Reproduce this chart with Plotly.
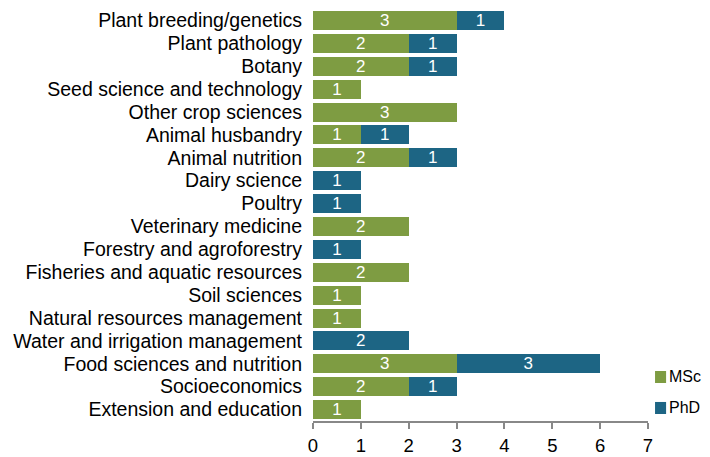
import plotly.graph_objects as go

categories = [
    "Plant breeding/genetics", "Plant pathology", "Botany", "Seed science and technology",
    "Other crop sciences", "Animal husbandry", "Animal nutrition", "Dairy science", "Poultry",
    "Veterinary medicine", "Forestry and agroforestry", "Fisheries and aquatic resources",
    "Soil sciences", "Natural resources management", "Water and irrigation management",
    "Food sciences and nutrition", "Socioeconomics", "Extension and education",
]
msc = [3, 2, 2, 1, 3, 1, 2, 0, 0, 2, 0, 2, 1, 1, 0, 3, 2, 1]
phd = [1, 1, 1, 0, 0, 1, 1, 1, 1, 0, 1, 0, 0, 0, 2, 3, 1, 0]
x_ticks = [0, 1, 2, 3, 4, 5, 6, 7]
series_names = ["MSc", "PhD"]

GREEN = "#7E9C42"
BLUE = "#1D6584"
FONT = "Liberation Sans"

fig = go.Figure()
for name, vals, col in [(series_names[0], msc, GREEN), (series_names[1], phd, BLUE)]:
    fig.add_trace(go.Bar(
        y=categories, x=vals, name=name, orientation="h",
        marker=dict(color=col, line=dict(width=0)),
        text=[str(v) if v else "" for v in vals],
        textposition="inside", insidetextanchor="middle", textangle=0,
        constraintext="none",
        textfont=dict(color="white", size=17, family=FONT),
        showlegend=False,
    ))

# Legend drawn manually (a plotly legend this close to the right edge gets clipped)
legend_items = [(series_names[0], GREEN, 0.1068), (series_names[1], BLUE, 0.0316)]
for name, col, yc in legend_items:
    fig.add_shape(type="rect", xref="paper", yref="paper",
                  x0=1.021, x1=1.054, y0=yc - 0.0146, y1=yc + 0.0146,
                  fillcolor=col, line=dict(width=0))
    fig.add_annotation(xref="paper", yref="paper", x=1.057, y=yc,
                       xanchor="left", yanchor="middle", text=name, showarrow=False,
                       font=dict(size=16, family=FONT, color="black"))

fig.update_layout(
    barmode="stack", bargap=0.17,
    width=702, height=449,
    margin=dict(l=305, r=62, t=1, b=36, autoexpand=False),
    plot_bgcolor="white", paper_bgcolor="white",
    font=dict(family=FONT, size=19, color="black"),
    showlegend=False,
)
fig.update_xaxes(range=[0, 7], tickvals=x_ticks, showgrid=False, zeroline=False,
                 showline=True, linecolor="#888888", linewidth=1.5,
                 ticks="outside", ticklen=6, tickcolor="#888888", tickwidth=1.5,
                 tickfont=dict(size=18.5), ticklabelstandoff=1,
                 fixedrange=True, automargin=False)
fig.update_yaxes(autorange="reversed", showgrid=False, zeroline=False, ticks="",
                 tickmode="array", tickvals=categories, ticktext=categories,
                 tickfont=dict(size=19.5), ticklabelstandoff=10, automargin=False)

fig.write_html("out.html")
